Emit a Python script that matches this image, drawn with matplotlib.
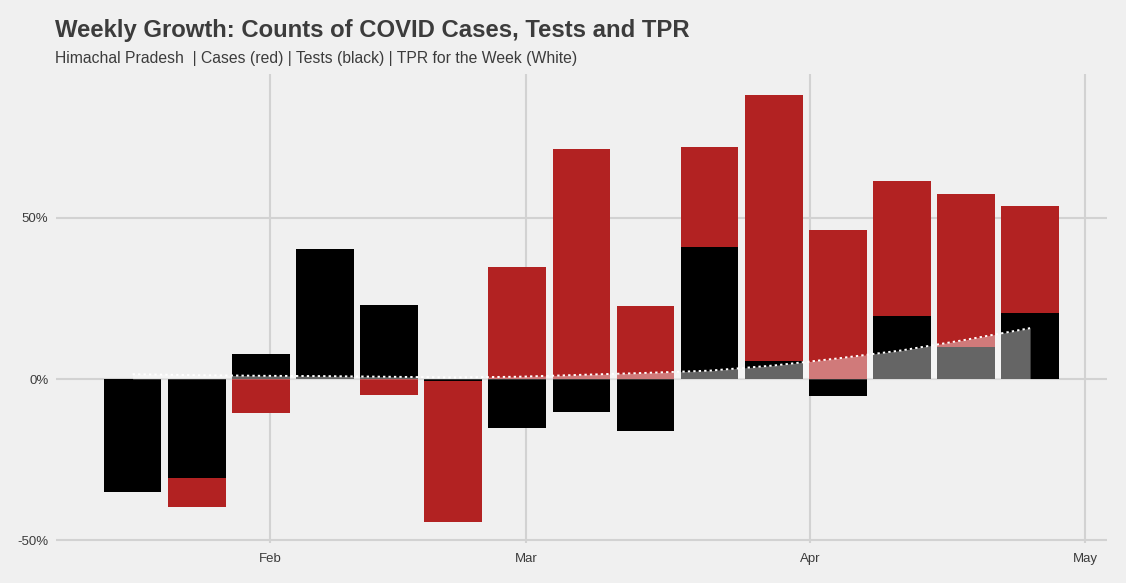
import matplotlib
matplotlib.use("Agg")
import matplotlib.pyplot as plt
import matplotlib.dates as mdates
import numpy as np
import datetime as dt

# ---- data ----
weeks = ["2021-01-17", "2021-01-24", "2021-01-31", "2021-02-07", "2021-02-14",
         "2021-02-21", "2021-02-28", "2021-03-07", "2021-03-14", "2021-03-21",
         "2021-03-28", "2021-04-04", "2021-04-11", "2021-04-18", "2021-04-25"]
cases_growth = [-25.0, -39.7, -10.5, 12.0, -4.9, -44.3, 34.8, 71.4, 22.7, 72.0,
                88.3, 46.3, 61.5, 57.5, 53.7]
tests_growth = [-35.0, -30.7, 7.8, 40.5, 23.0, -0.6, -15.1, -10.3, -16.1, 41.0,
                5.6, -5.2, 19.6, 9.9, 20.5]
tpr = [1.5, 1.2, 1.0, 0.9, 0.7, 0.5, 0.7, 1.3, 1.9, 2.6, 4.2, 6.4, 8.9, 12.2, 15.8]
month_ticks = ["2021-02-01", "2021-03-01", "2021-04-01", "2021-05-01"]
month_labels = ["Feb", "Mar", "Apr", "May"]
y_ticks = [-50, 0, 50]
y_labels = ["-50%", "0%", "50%"]

title = "Weekly Growth: Counts of COVID Cases, Tests and TPR"
subtitle = "Himachal Pradesh  | Cases (red) | Tests (black) | TPR for the Week (White)"

# ---- style ----
BG = "#f0f0f0"
GRID = "#d2d2d2"
TXT = "#3c3c3c"
RED = "#b22222"
plt.rcParams["font.family"] = ["Liberation Sans", "DejaVu Sans"]

W, H = 1126, 583
fig = plt.figure(figsize=(W / 100, H / 100), dpi=100, facecolor=BG)
ax = fig.add_axes([56 / W, 1 - 543.3 / H, (1106.7 - 56) / W, (543.3 - 74) / H])
ax.set_facecolor(BG)

x = mdates.date2num([dt.datetime.strptime(d, "%Y-%m-%d") for d in weeks])
bw = 6.3

ax.bar(x, cases_growth, width=bw, color=RED, zorder=2, linewidth=0)
ax.bar(x, tests_growth, width=bw, color="black", zorder=3, linewidth=0)
ax.fill_between(x, 0, tpr, color="white", alpha=0.4, zorder=4, linewidth=0)
ax.plot(x, tpr, color="white", linestyle=(0, (1.2, 1.6)), linewidth=1.4, zorder=5)

xt = mdates.date2num([dt.datetime.strptime(d, "%Y-%m-%d") for d in month_ticks])
ax.set_xticks(xt)
ax.set_xticklabels(month_labels)
ax.set_yticks(y_ticks)
ax.set_yticklabels(y_labels)

xmin = x[0] - bw / 2
xmax = x[-1] + bw / 2
pad = (xmax - xmin) * 0.05
ax.set_xlim(xmin - pad, xmax + pad)
ax.set_ylim(-51.0, 94.7)

ax.grid(True, color=GRID, linewidth=1.5, zorder=0)
ax.set_axisbelow(True)
for s in ax.spines.values():
    s.set_visible(False)
ax.tick_params(axis="both", length=0, colors=TXT, labelsize=9.5)
ax.tick_params(axis="y", pad=5.5)
ax.tick_params(axis="x", pad=7)

fig.text(55 / W, 1 - 36.7 / H, title, fontsize=17.2, fontweight="bold",
         color=TXT, va="baseline", ha="left")
fig.text(55 / W, 1 - 63.3 / H, subtitle, fontsize=11.35, color=TXT,
         va="baseline", ha="left")

fig.savefig("out.png", dpi=100, facecolor=BG)
